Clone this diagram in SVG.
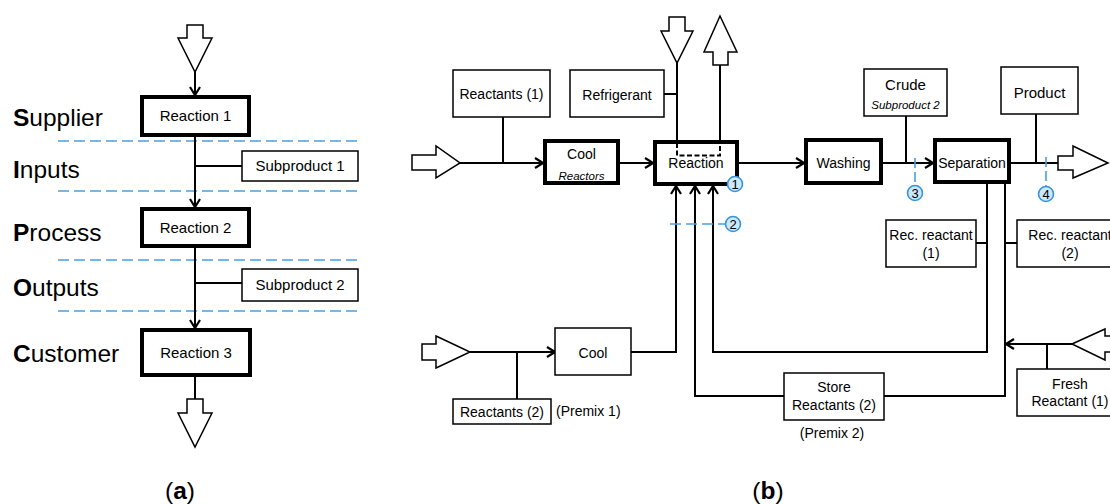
<svg xmlns="http://www.w3.org/2000/svg" width="1110" height="504" viewBox="0 0 1110 504">
<defs>
<marker id="ah" markerUnits="userSpaceOnUse" viewBox="0 0 10 12" refX="9" refY="6" markerWidth="10" markerHeight="12" orient="auto">
<path d="M1,1 L9,6 L1,11" fill="none" stroke="#000" stroke-width="2.2"/>
</marker>
<style>
text{font-family:"Liberation Sans",Arial,sans-serif;fill:#000}
.t{font-size:14px;text-anchor:middle}
.ta{font-size:15px;text-anchor:middle}
.it{font-size:11.5px;font-style:italic;text-anchor:middle}
.lab{font-size:24.5px}
.box{fill:#fff;stroke:#000;stroke-width:1.5}
.thick{fill:#fff;stroke:#000;stroke-width:4}
.hol{fill:#fff;stroke:#000;stroke-width:1.5;stroke-linejoin:miter}
.c{fill:none;stroke:#000;stroke-width:2}
.ca{fill:none;stroke:#000;stroke-width:2;marker-end:url(#ah)}
.bd{fill:none;stroke:#4aa0e0;stroke-width:1.6;stroke-dasharray:11 5}
.badge{fill:#cde8fb;stroke:#3594dc;stroke-width:1.6}
.bn{font-size:13px;text-anchor:middle}
</style>
</defs>
<rect width="1110" height="504" fill="#fff"/>

<!-- Panel a -->
<g id="a-labels">
<text class="lab" x="13" y="126"><tspan font-weight="bold">S</tspan>upplier</text>
<text class="lab" x="13" y="178"><tspan font-weight="bold">I</tspan>nputs</text>
<text class="lab" x="13" y="241"><tspan font-weight="bold">P</tspan>rocess</text>
<text class="lab" x="13" y="296"><tspan font-weight="bold">O</tspan>utputs</text>
<text class="lab" x="13" y="362"><tspan font-weight="bold">C</tspan>ustomer</text>
<text class="lab" x="180" y="499" text-anchor="middle">(<tspan font-weight="bold">a</tspan>)</text>
</g>
<g id="a-dividers">
<line class="bd" x1="58" y1="141" x2="362" y2="141"/>
<line class="bd" x1="58" y1="191" x2="362" y2="191"/>
<line class="bd" x1="58" y1="260" x2="362" y2="260"/>
<line class="bd" x1="58" y1="311" x2="362" y2="311"/>
</g>
<g id="a-connectors">
<line class="ca" x1="195" y1="72" x2="195" y2="95"/>
<line class="ca" x1="195" y1="136" x2="195" y2="207"/>
<line class="c" x1="195" y1="166" x2="242" y2="166"/>
<line class="ca" x1="195" y1="248" x2="195" y2="328"/>
<line class="c" x1="195" y1="283" x2="242" y2="283"/>
<line class="c" x1="195" y1="377" x2="195" y2="399"/>
</g>
<g id="a-in"><polygon class="hol" points="187,25 203,25 203,38 212,38 195,72 178,38 187,38"/></g>
<g id="a-out"><polygon class="hol" points="187,399 203,399 203,413 212,413 195,447 178,413 187,413"/></g>
<g id="a-r1"><rect class="thick" x="142" y="97" width="107" height="38"/><text class="ta" x="195.5" y="121">Reaction 1</text></g>
<g id="a-s1"><rect class="box" x="242" y="151" width="116" height="30"/><text class="ta" x="300" y="171">Subproduct 1</text></g>
<g id="a-r2"><rect class="thick" x="142" y="209" width="107" height="37"/><text class="ta" x="195.5" y="233">Reaction 2</text></g>
<g id="a-s2"><rect class="box" x="242" y="269" width="116" height="32"/><text class="ta" x="300" y="290">Subproduct 2</text></g>
<g id="a-r3"><rect class="thick" x="142" y="330" width="108" height="45"/><text class="ta" x="196" y="358">Reaction 3</text></g>

<!-- Panel b -->
<g id="b-connectors">
<line class="ca" x1="460" y1="163" x2="543" y2="163"/>
<line class="c" x1="503" y1="117" x2="503" y2="163"/>
<line class="ca" x1="620" y1="163" x2="653" y2="163"/>
<line class="c" x1="664" y1="94" x2="677" y2="94"/>
<line class="c" x1="677" y1="63" x2="677" y2="142"/>
<line class="c" x1="720" y1="65" x2="720" y2="142"/>
<line class="ca" x1="739" y1="163" x2="804" y2="163"/>
<line class="ca" x1="883" y1="163" x2="933" y2="163"/>
<line class="c" x1="906" y1="116" x2="906" y2="163"/>
<line class="c" x1="1011" y1="163" x2="1058" y2="163"/>
<line class="c" x1="1036" y1="114" x2="1036" y2="163"/>
<path class="ca" d="M631,352 H676 V186"/>
<path class="ca" d="M784,396 H695 V186"/>
<path class="ca" d="M987,184 V352 H713 V186"/>
<path class="c" d="M1005,184 V396 H884"/>
<line class="c" x1="976" y1="243" x2="987" y2="243"/>
<line class="c" x1="1005" y1="243" x2="1017" y2="243"/>
<line class="ca" x1="1072" y1="344" x2="1006" y2="344"/>
<line class="c" x1="1047" y1="344" x2="1047" y2="370"/>
<line class="ca" x1="470" y1="352" x2="555" y2="352"/>
<line class="c" x1="517" y1="352" x2="517" y2="399"/>
</g>
<g id="b-in1"><polygon class="hol" points="412,155 436,155 436,146 460,163 436,178 436,170 412,170"/></g>
<g id="b-in2"><polygon class="hol" points="422,344 436,344 436,336 470,352 436,368 436,360 422,360"/></g>
<g id="b-refin"><polygon class="hol" points="669,17 685,17 685,31 693,31 677,63 661,31 669,31"/></g>
<g id="b-refout"><polygon class="hol" points="720,16 737,52 728,52 728,65 713,65 713,52 704,52"/></g>
<g id="b-out"><polygon class="hol" points="1058,156 1073,156 1073,146 1108,163 1073,178 1073,170 1058,170"/></g>
<g id="b-freshin"><polygon class="hol" points="1072,344 1105,329 1105,336 1113,336 1113,352 1105,352 1105,360"/></g>

<g id="b-reactants1"><rect class="box" x="453" y="70" width="97" height="47"/><text class="t" x="501.5" y="99">Reactants (1)</text></g>
<g id="b-refrigerant"><rect class="box" x="570" y="70" width="94" height="47"/><text class="t" x="617" y="100">Refrigerant</text></g>
<g id="b-cool1"><rect class="thick" x="545" y="141" width="73" height="42"/><text class="t" x="581.5" y="159">Cool</text><text class="it" x="581.5" y="180">Reactors</text></g>
<g id="b-reaction"><rect class="thick" x="655" y="142" width="82" height="42"/><path d="M677,143 V155.5 H720 V143" fill="none" stroke="#000" stroke-width="2" stroke-dasharray="5 2.5"/><text class="t" x="696" y="168">Reaction</text></g>
<g id="b-washing"><rect class="thick" x="806" y="140" width="75" height="43"/><text class="t" x="843.5" y="168">Washing</text></g>
<g id="b-crude"><rect class="box" x="864" y="69" width="83" height="47"/><text class="ta" x="905.5" y="90">Crude</text><text class="it" x="905.5" y="109">Subproduct 2</text></g>
<g id="b-separation"><rect class="thick" x="935" y="140" width="74" height="42"/><text class="t" x="972" y="168">Separation</text></g>
<g id="b-product"><rect class="box" x="1001" y="67" width="77" height="47"/><text class="ta" x="1039.5" y="98">Product</text></g>
<g id="b-rec1"><rect class="box" x="886" y="220" width="90" height="47"/><text class="t" x="931" y="240">Rec. reactant</text><text class="t" x="931" y="258">(1)</text></g>
<g id="b-rec2"><rect class="box" x="1017" y="220" width="100" height="47"/><text class="t" x="1070" y="240">Rec. reactant</text><text class="t" x="1070" y="258">(2)</text></g>
<g id="b-fresh"><rect class="box" x="1017" y="369" width="100" height="47"/><text class="t" x="1070" y="389">Fresh</text><text class="t" x="1070" y="406">Reactant (1)</text></g>
<g id="b-store"><rect class="box" x="784" y="373" width="100" height="47"/><text class="t" x="834" y="392">Store</text><text class="t" x="834" y="410">Reactants (2)</text><text class="t" x="832" y="438">(Premix 2)</text></g>
<g id="b-cool2"><rect class="box" x="555" y="328" width="76" height="47"/><text class="t" x="593" y="358">Cool</text></g>
<g id="b-reactants2"><rect class="box" x="453" y="399" width="98" height="25"/><text class="t" x="502" y="417">Reactants (2)</text><text x="556" y="416" font-size="14">(Premix 1)</text></g>

<g id="b-badges">
<circle class="badge" cx="735" cy="184" r="7.5"/><text class="bn" x="735" y="188.7">1</text>
<line class="bd" x1="670" y1="224" x2="726" y2="224"/>
<circle class="badge" cx="733" cy="224" r="7.5"/><text class="bn" x="733" y="228.7">2</text>
<line class="bd" x1="915" y1="158" x2="915" y2="186" style="stroke-dasharray:10 4"/>
<circle class="badge" cx="915" cy="193" r="7.5"/><text class="bn" x="915" y="197.7">3</text>
<line class="bd" x1="1046" y1="157" x2="1046" y2="187" style="stroke-dasharray:10 4"/>
<circle class="badge" cx="1046" cy="194" r="7.5"/><text class="bn" x="1046" y="198.7">4</text>
</g>
<text class="lab" x="768" y="499" text-anchor="middle">(<tspan font-weight="bold">b</tspan>)</text>
</svg>
